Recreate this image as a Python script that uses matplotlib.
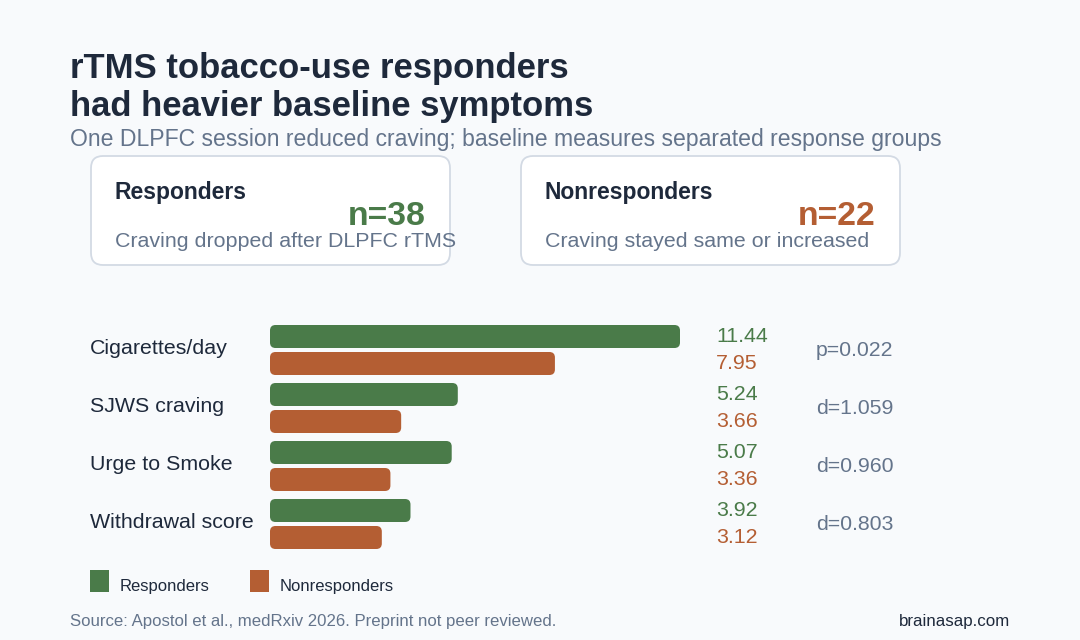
import matplotlib
matplotlib.use("Agg")
import matplotlib.pyplot as plt
from matplotlib.patches import FancyBboxPatch, Rectangle
from matplotlib.transforms import blended_transform_factory

plt.rcParams["font.family"] = ["Liberation Sans", "DejaVu Sans"]

# data
measures = ["Cigarettes/day", "SJWS craving", "Urge to Smoke", "Withdrawal score"]
responders = [11.44, 5.24, 5.07, 3.92]
nonresponders = [7.95, 3.66, 3.36, 3.12]
stats = ["p=0.022", "d=1.059", "d=0.960", "d=0.803"]
n_resp = 38
n_nonresp = 22

BG = "#f8fafc"
GREEN = "#4a7b49"
ORANGE = "#b45e33"
DARK = "#1e293b"
GRAY = "#64748b"
BORDER = "#d3dae4"

W, H = 1080, 640
fig = plt.figure(figsize=(W / 100, H / 100), dpi=100, facecolor=BG)

# overlay axes in pixel coordinates for the header, cards and footer
top = fig.add_axes([0, 0, 1, 1], zorder=0)
top.set_xlim(0, W)
top.set_ylim(H, 0)
top.axis("off")

top.text(70, 78, "rTMS tobacco-use responders", fontsize=24.9, fontweight="bold",
         color=DARK, va="baseline")
top.text(70, 116, "had heavier baseline symptoms", fontsize=24.9, fontweight="bold",
         color=DARK, va="baseline")
top.text(70, 146, "One DLPFC session reduced craving; baseline measures separated response groups",
         fontsize=16.6, color=GRAY, va="baseline")


def card(x0, x1, title, n_text, color, sub):
    box = FancyBboxPatch((x0, 156), x1 - x0, 109,
                         boxstyle="round,pad=0,rounding_size=12",
                         facecolor="white", edgecolor=BORDER, linewidth=1.3)
    top.add_patch(box)
    top.text(x0 + 24, 199, title, fontsize=16.5, fontweight="bold",
             color=DARK, va="baseline")
    top.text(x1 - 24, 225, n_text, fontsize=24.3, fontweight="bold",
             color=color, va="baseline", ha="right")
    top.text(x0 + 24, 247, sub, fontsize=15.4, color=GRAY, va="baseline")


card(91, 450, "Responders", f"n={n_resp}", GREEN, "Craving dropped after DLPFC rTMS")
card(521, 900, "Nonresponders", f"n={n_nonresp}", ORANGE, "Craving stayed same or increased")

# legend
top.add_patch(Rectangle((90, 570), 19, 22, facecolor=GREEN, edgecolor="none"))
top.text(120, 591, "Responders", fontsize=12, color=DARK, va="baseline")
top.add_patch(Rectangle((250, 570), 19, 22, facecolor=ORANGE, edgecolor="none"))
top.text(280, 591, "Nonresponders", fontsize=12, color=DARK, va="baseline")

# footer
top.text(70, 626, "Source: Apostol et al., medRxiv 2026. Preprint not peer reviewed.",
         fontsize=12.1, color=GRAY, va="baseline")
top.text(1010, 626, "brainasap.com", fontsize=12.2, color=DARK, va="baseline", ha="right")

# bar axes: x from 270px, 1 unit ~ 35.84px; rows 58px apart
x0_px, xmax = 270, 12.0
px_per_x = 410 / 11.44
row_px = 58
y_top_px, y_bot_px = 318, 556
ax = fig.add_axes([x0_px / W, 1 - y_bot_px / H, xmax * px_per_x / W, (y_bot_px - y_top_px) / H],
                  zorder=1)
ax.set_xlim(0, xmax)
ax.set_ylim((y_bot_px - 350) / row_px, (y_top_px - 350) / row_px)
ax.axis("off")
ax.patch.set_alpha(0)

bar_h = 23 / row_px
off = 13.5 / row_px
r = 5.5 / px_per_x
aspect = px_per_x / row_px
for i, (a, b) in enumerate(zip(responders, nonresponders)):
    for val, yc, col in ((a, i - off, GREEN), (b, i + off, ORANGE)):
        ax.add_patch(FancyBboxPatch((0, yc - bar_h / 2), val, bar_h,
                                    boxstyle=f"round,pad=0,rounding_size={r}",
                                    mutation_aspect=aspect,
                                    facecolor=col, edgecolor="none"))

tr = blended_transform_factory(fig.transFigure, ax.transData)
for i, m in enumerate(measures):
    ax.text(90 / W, i - 0.03, m, transform=tr, fontsize=15.4, color=DARK, va="center")
    ax.text(716 / W, i - off, f"{responders[i]:.2f}", transform=tr,
            fontsize=15.4, color=GREEN, va="center")
    ax.text(716 / W, i + off, f"{nonresponders[i]:.2f}", transform=tr,
            fontsize=15.4, color=ORANGE, va="center")
    ax.text(816 / W, i, stats[i], transform=tr, fontsize=15.3, color=GRAY, va="center")

fig.savefig("out.png", dpi=100, facecolor=BG)
